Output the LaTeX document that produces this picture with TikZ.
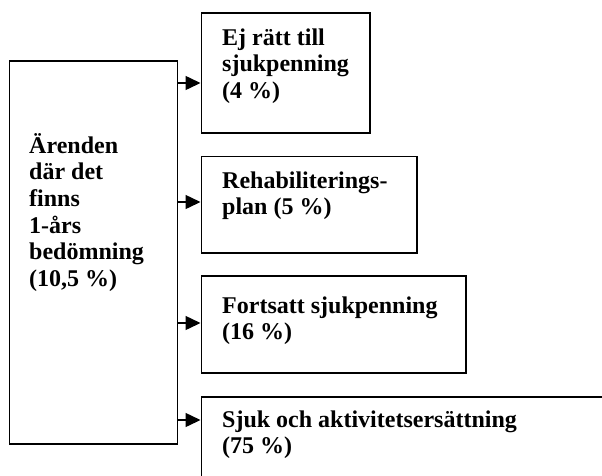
\documentclass[tikz,border=0pt]{standalone}
\usepackage{fontspec}
\setmainfont{Liberation Serif}
\usetikzlibrary{arrows.meta}
\tikzset{box/.style={draw, line width=1.5pt, anchor=north west, inner sep=0pt},
         lbl/.style={anchor=base west, align=left, inner sep=0pt, font=\bfseries\fontsize{24}{26.7}\selectfont},
         arr/.style={line width=1.5pt, -{Triangle[length=15pt,width=14pt]}}}

\begin{document}
\begin{tikzpicture}[x=1pt,y=-1pt]
   \clip (0,0) rectangle (602,475);
   % boxes
   \node[box, minimum width=168pt, minimum height=383pt] (src) at (8.5,60) {};
   \node[box, minimum width=168.5pt, minimum height=120pt] (b1) at (200.5,12) {};
   \node[box, minimum width=215.5pt, minimum height=96.5pt] (b2) at (200.5,155.5) {};
   \node[box, minimum width=264.5pt, minimum height=97pt] (b3) at (200.5,275) {};
   \node[box, minimum width=419.5pt, minimum height=94pt] (b4) at (200.5,396) {};
   % texts (base = last line)
   \node[lbl] (srctxt) at ([shift={(20.5,226.5)}]src.north west) {Ärenden\\där det\\finns\\1-års\\bedömning\\(10,5 \%)};
   \node[lbl] (t1) at ([shift={(21.5,86.4)}]b1.north west) {Ej rätt till\\sjukpenning\\(4 \%)};
   \node[lbl] (t2) at ([shift={(21.5,59.2)}]b2.north west) {Rehabiliterings-\\plan (5 \%)};
   \node[lbl] (t3) at ([shift={(21.5,64.7)}]b3.north west) {Fortsatt sjukpenning\\(16 \%)};
   \node[lbl] (t4) at ([shift={(21.5,57.7)}]b4.north west) {Sjuk och aktivitetsersättning\\(75 \%)};
   % arrows
   \coordinate (p1) at (b1.west |- 0,83);
   \coordinate (p2) at (b2.west |- 0,202);
   \coordinate (p3) at (b3.west |- 0,323);
   \coordinate (p4) at (b4.west |- 0,420);
   \foreach \i in {1,...,4}
     \draw[arr] (src.east |- p\i) -- (p\i);
\end{tikzpicture}
\end{document}
